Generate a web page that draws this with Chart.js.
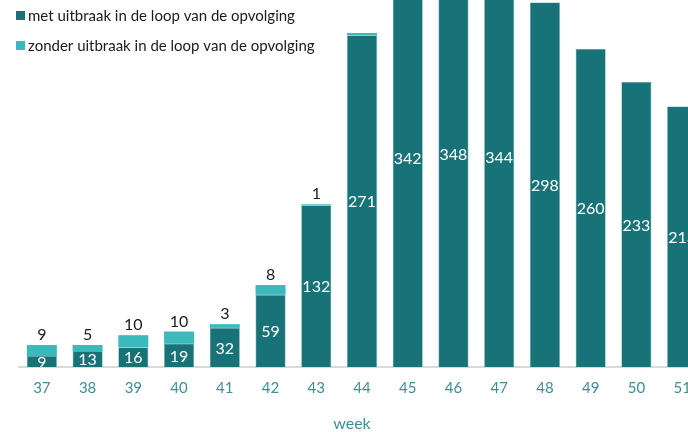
<!DOCTYPE html>
<html>
<head>
<meta charset="utf-8">
<script src="https://cdn.jsdelivr.net/npm/chart.js@4.4.1/dist/chart.umd.min.js"></script>
<style>
  html, body { margin: 0; padding: 0; background: #ffffff; }
  #frame { width: 688px; height: 432px; overflow: hidden; position: relative; }
  #inner { width: 720px; height: 440px; position: absolute; left: 0; top: 0; }
</style>
</head>
<body>
<div id="frame"><div id="inner"><canvas id="c" width="720" height="440"></canvas></div></div>
<script>
// ---- data ----
const weeks = ['37','38','39','40','41','42','43','44','45','46','47','48','49','50','51'];
const metUitbraak = [9, 13, 16, 19, 32, 59, 132, 271, 342, 348, 344, 298, 260, 233, 213];
const zonderUitbraak = [9, 5, 10, 10, 3, 8, 1, 2, null, null, null, 0, 0, 0, 0];
const zonderLabels = ['9','5','10','10','3','8','1','','','','','','','',''];
const seriesNames = ['met uitbraak in de loop van de opvolging', 'zonder uitbraak in de loop van de opvolging'];
const axisTitle = 'week';

const DARK = '#177378';
const LIGHT = '#3bb9bd';
const TICK = '#3e8e95';
const FONT = 'Lato, "Open Sans", sans-serif';

const overlay = {
  id: 'overlay',
  afterDatasetsDraw(chart) {
    const ctx = chart.ctx;
    const y = chart.scales.y;
    const area = chart.chartArea;
    const m0 = chart.getDatasetMeta(0);
    const m1 = chart.getDatasetMeta(1);
    ctx.save();
    ctx.font = '16px ' + FONT;
    ctx.textAlign = 'center';
    ctx.textBaseline = 'middle';
    // inner labels (clipped to chart area)
    ctx.save();
    ctx.beginPath();
    ctx.rect(area.left, area.top, area.right - area.left, area.bottom - area.top);
    ctx.clip();
    ctx.fillStyle = '#ffffff';
    metUitbraak.forEach((v, i) => {
      const x = m0.data[i].x;
      const yc = y.getPixelForValue(v / 2);
      ctx.fillText(String(v), x, yc + 1);
    });
    ctx.restore();
    // labels above the light segments
    ctx.fillStyle = '#1a1a1a';
    zonderLabels.forEach((t, i) => {
      if (!t) return;
      const x = m1.data[i].x;
      const top = y.getPixelForValue(metUitbraak[i] + (zonderUitbraak[i] || 0));
      ctx.fillText(t, x, top - 10);
    });
    // legend
    const rows = [[DARK, seriesNames[0], 16], [LIGHT, seriesNames[1], 46]];
    ctx.textAlign = 'left';
    ctx.font = '15px ' + FONT;
    rows.forEach(([col, txt, cy]) => {
      ctx.fillStyle = col;
      ctx.fillRect(16, cy - 5, 9, 9);
      ctx.fillStyle = '#1a1a1a';
      ctx.fillText(txt, 28, cy);
    });
    // axis title
    ctx.textAlign = 'center';
    ctx.fillStyle = TICK;
    ctx.font = '16px ' + FONT;
    ctx.fillText(axisTitle, 352, 424);
    ctx.restore();
  }
};

new Chart(document.getElementById('c'), {
  type: 'bar',
  data: {
    labels: weeks,
    datasets: [
      { label: seriesNames[0], data: metUitbraak, backgroundColor: DARK, borderColor: '#4f9ea2', borderWidth: 0.6, stack: 's' },
      { label: seriesNames[1], data: zonderUitbraak, backgroundColor: LIGHT, borderWidth: 0, stack: 's' }
    ]
  },
  options: {
    responsive: false,
    animation: false,
    devicePixelRatio: 1,
    layout: { padding: { left: 19, right: 15, top: 0, bottom: 0 } },
    datasets: { bar: { categoryPercentage: 1, barPercentage: 0.656 } },
    plugins: { legend: { display: false }, tooltip: { enabled: false } },
    scales: {
      x: {
        stacked: true,
        grid: { display: false, drawTicks: false },
        border: { display: true, color: '#d9d9d9', width: 2 },
        ticks: { color: TICK, font: { family: FONT, size: 15 }, padding: 12, maxRotation: 0, autoSkip: false },
        afterFit(scale) { scale.height = 73; }
      },
      y: {
        stacked: true,
        display: false,
        min: 0,
        max: 300
      }
    }
  },
  plugins: [overlay]
});
</script>
</body>
</html>
